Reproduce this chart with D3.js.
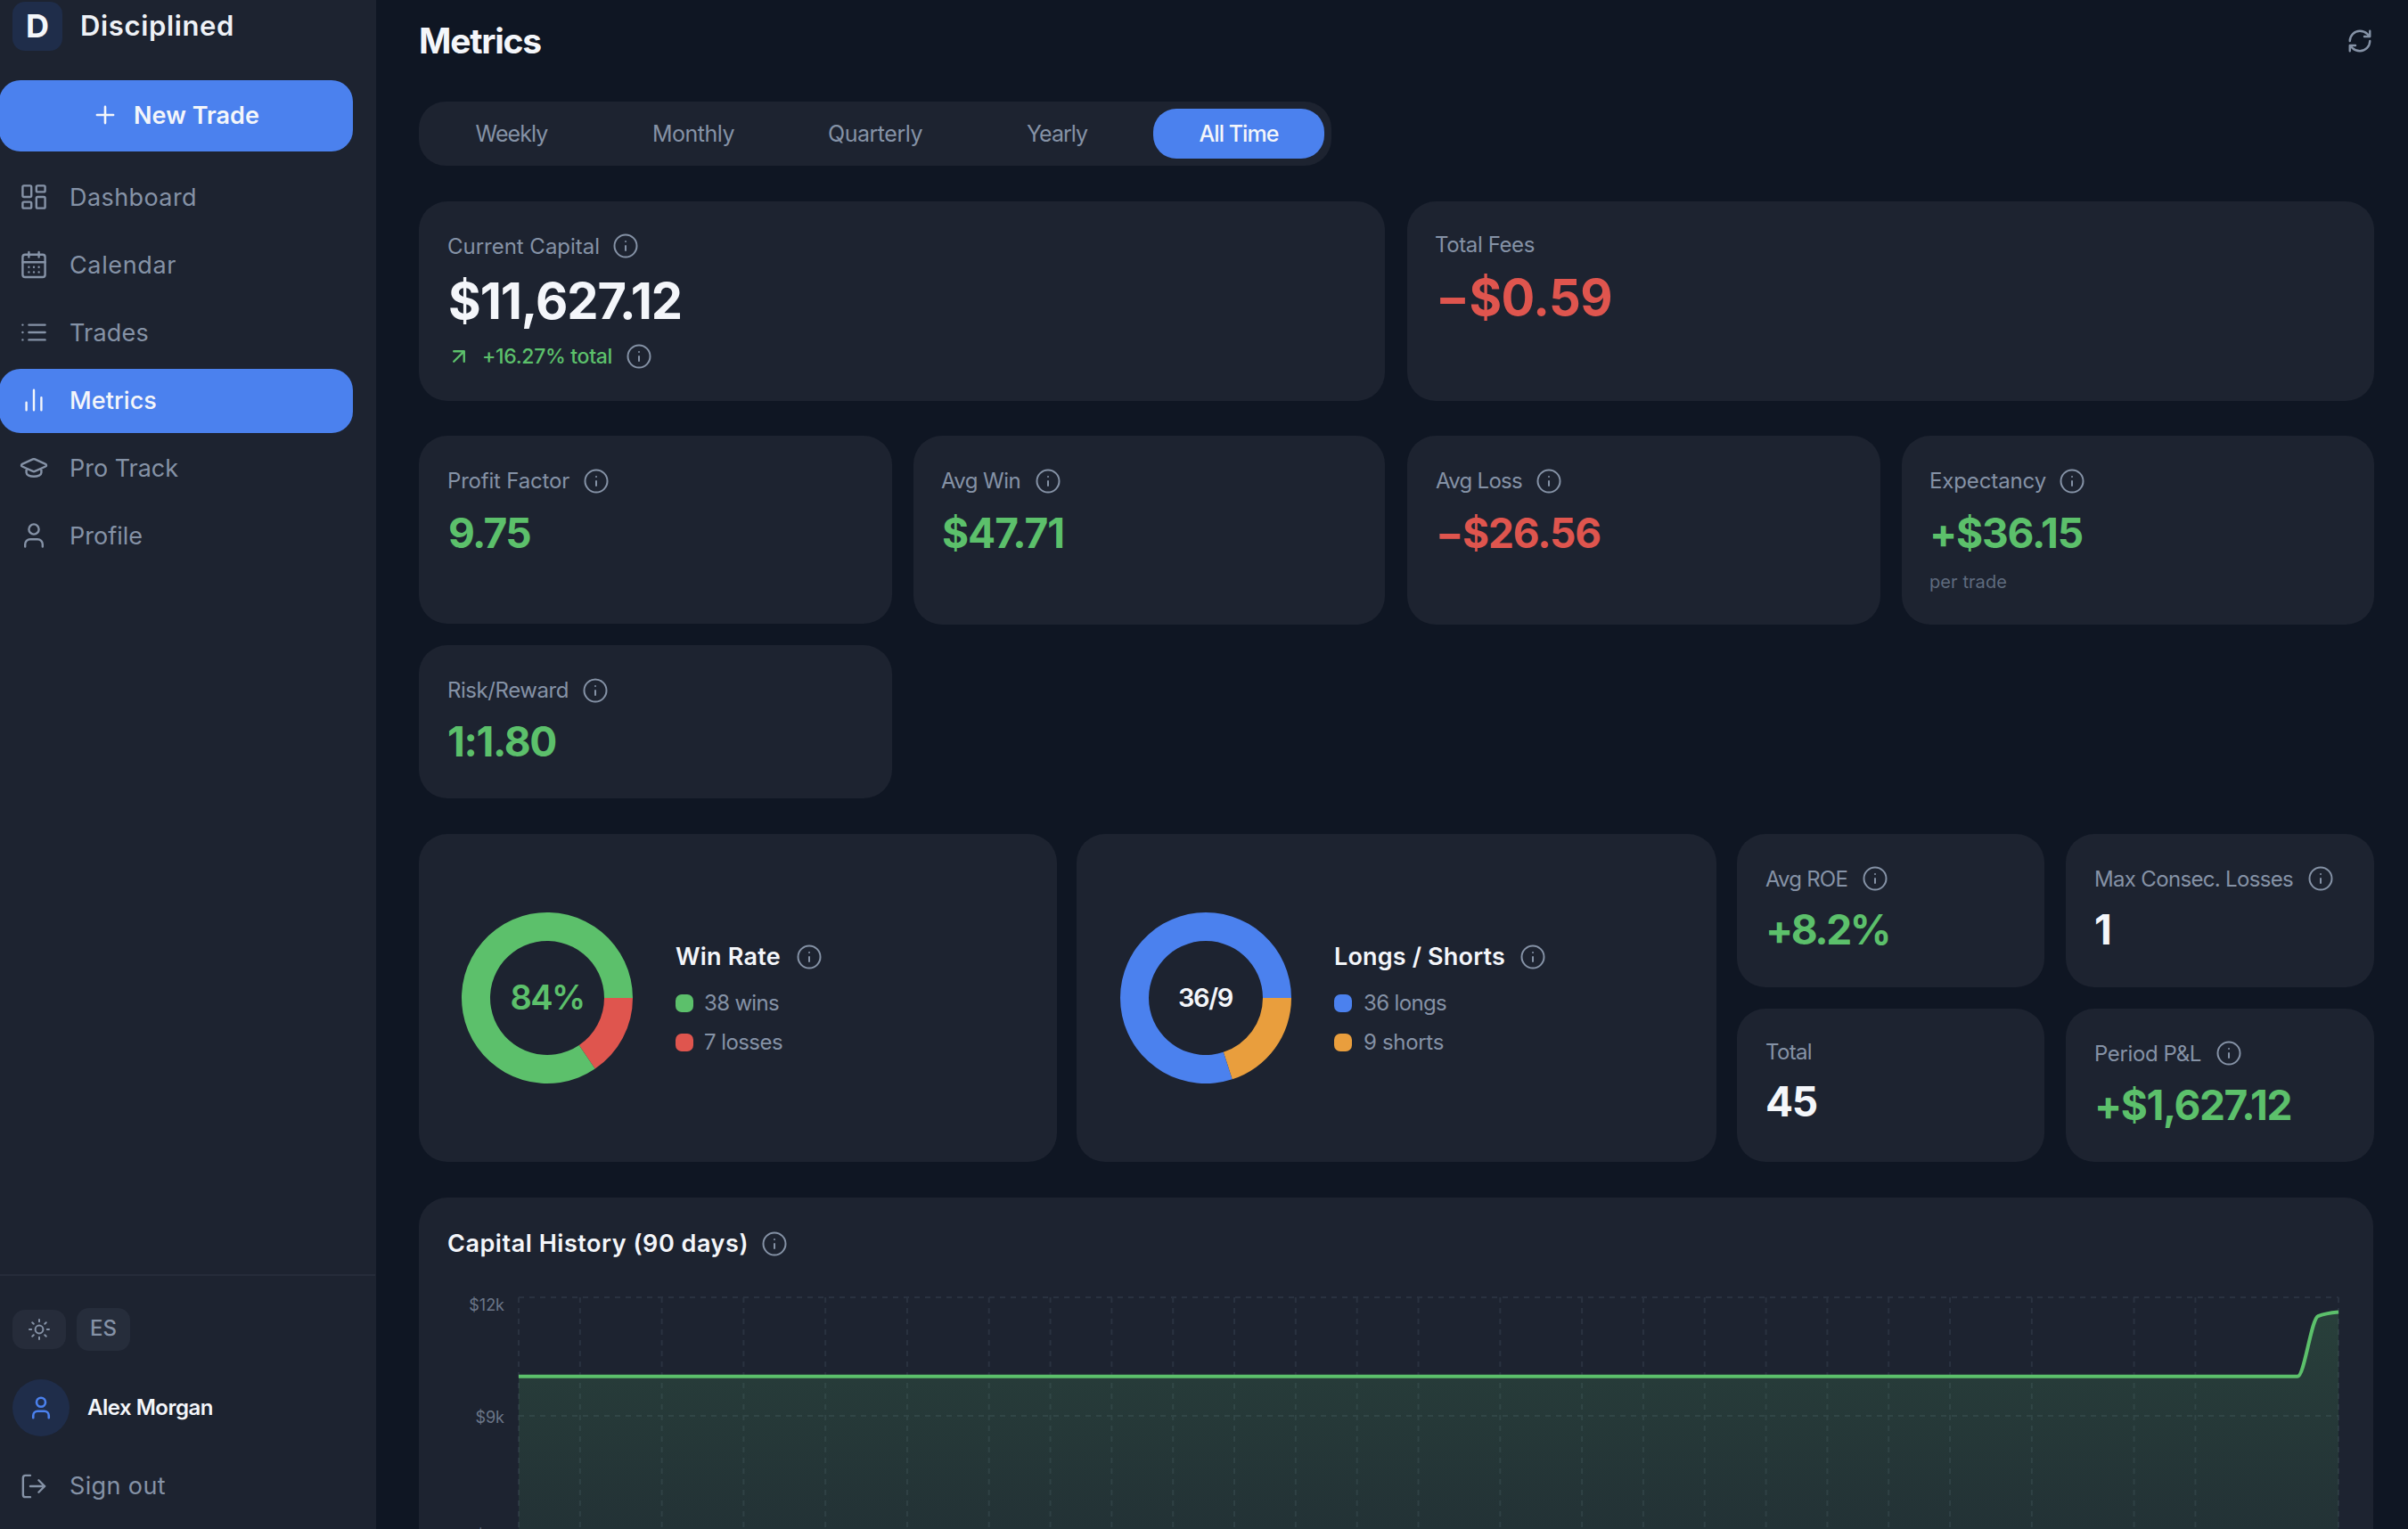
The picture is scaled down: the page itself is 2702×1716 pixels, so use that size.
<!DOCTYPE html>
<html><head><meta charset="utf-8">
<style>html,body{margin:0;padding:0;background:#0f1623;overflow:hidden;width:2702px;height:1716px}svg{display:block;font-family:Inter,"Noto Sans",sans-serif}</style>
<script src="https://cdn.jsdelivr.net/npm/d3@7/dist/d3.min.js"></script>
</head><body><svg id="c" width="2702" height="1716" viewBox="0 0 2702 1716"></svg>
<script>
// ---- data ----
const navLabels = ["Dashboard","Calendar","Trades","Metrics","Pro Track","Profile"];
const tabLabels = ["Weekly","Monthly","Quarterly","Yearly","All Time"];
const winLossValues = [7,38];
const winLossColors = ["#df554e","#5cc06b"];
const longShortValues = [9,36];
const longShortColors = ["#e99e3d","#4b81ee"];
const capitalHistory = [
 10000,10000,10000,10000,10000,10000,10000,10000,10000,10000,
 10000,10000,10000,10000,10000,10000,10000,10000,10000,10000,
 10000,10000,10000,10000,10000,10000,10000,10000,10000,10000,
 10000,10000,10000,10000,10000,10000,10000,10000,10000,10000,
 10000,10000,10000,10000,10000,10000,10000,10000,10000,10000,
 10000,10000,10000,10000,10000,10000,10000,10000,10000,10000,
 10000,10000,10000,10000,10000,10000,10000,10000,10000,10000,
 10000,10000,10000,10000,10000,10000,10000,10000,10000,10000,
 10000,10000,10000,10000,10000,10000,10000,10000,11526,11627.12];
const capitalDayIndex = capitalHistory.map((_,i)=>i);
const xGridDays = [0,3,7,11,15,19,23,26,29,32,35,38,41,44,48,52,55,58,61,64,67,70,74,79,82,89];
const yTickValues = [12000,9000,6000];

// ---- palette ----
const C={bg:"#0f1623",card:"#1d2330",blue:"#4b81ee",green:"#5cc06b",red:"#df554e",white:"#f4f6fa",gray:"#8592a6",dim:"#6b7688",grid:"#2a3240"};
const svg=d3.select("#c");
function rect(x0,y0,x1,y1,r,fill){return svg.append("rect").attr("x",x0).attr("y",y0).attr("width",x1-x0).attr("height",y1-y0).attr("rx",r).attr("fill",fill);}
function txt(s,x,y,size,weight,fill,width,anchor){
  const t=svg.append("text").attr("x",x).attr("y",y).attr("font-size",size).attr("font-weight",weight).attr("fill",fill).text(s);
  if(anchor)t.attr("text-anchor",anchor);
  if(width){const l=t.node().getComputedTextLength();t.attr("letter-spacing",(width-l)/s.length);}
  return t;
}
const ICON={
 dash:'<rect x="3" y="3" width="7" height="9" rx="1"/><rect x="14" y="3" width="7" height="5" rx="1"/><rect x="14" y="12" width="7" height="9" rx="1"/><rect x="3" y="16" width="7" height="5" rx="1"/>',
 cal:'<path d="M8 2v4M16 2v4M3 10h18M8 14h.01M12 14h.01M16 14h.01M8 18h.01M12 18h.01M16 18h.01"/><rect x="3" y="4" width="18" height="18" rx="2"/>',
 list:'<path d="M3 6h.01M3 12h.01M3 18h.01M8 6h13M8 12h13M8 18h13"/>',
 bars:'<path d="M18 20V10M12 20V4M6 20v-6"/>',
 cap:'<path d="M21.42 10.922a1 1 0 0 0-.019-1.838L12.83 5.18a2 2 0 0 0-1.66 0L2.6 9.08a1 1 0 0 0 0 1.832l8.57 3.908a2 2 0 0 0 1.66 0zM6 12.5V16a6 3 0 0 0 12 0v-3.5"/>',
 user:'<path d="M19 21v-2a4 4 0 0 0-4-4H9a4 4 0 0 0-4 4v2"/><circle cx="12" cy="7" r="4"/>',
 plus:'<path d="M5 12h14M12 5v14"/>',
 sun:'<circle cx="12" cy="12" r="4"/><path d="M12 2v2M12 20v2M4.93 4.93l1.41 1.41M17.66 17.66l1.41 1.41M2 12h2M20 12h2M6.34 17.66l-1.41 1.41M19.07 4.93l-1.41 1.41"/>',
 out:'<path d="M9 21H5a2 2 0 0 1-2-2V5a2 2 0 0 1 2-2h4M16 17l5-5-5-5M21 12H9"/>',
 up:'<path d="M7 7h10v10M7 17 17 7"/>',
 refresh:'<path d="M3 12a9 9 0 0 1 9-9 9.75 9.75 0 0 1 6.74 2.74L21 8M21 3v5h-5M21 12a9 9 0 0 1-9 9 9.75 9.75 0 0 1-6.74-2.74L3 16M8 16H3v5"/>',
 info:'<circle cx="12" cy="12" r="10"/><path d="M12 16v-4M12 8h.01"/>'
};
function icon(name,cx,cy,s,color,sw){
  svg.append("g").attr("transform",`translate(${cx-12*s},${cy-12*s}) scale(${s})`)
   .attr("fill","none").attr("stroke",color).attr("stroke-width",sw/s).attr("stroke-linecap","round").attr("stroke-linejoin","round").html(ICON[name]);
}
const info=(x,y)=>icon("info",x,y,1.25,C.gray,2);

// ---- sidebar ----
rect(0,0,422,1716,0,C.card);
rect(14,2,70,57,14,"#1f2d4a");
txt("D",42,42,36,700,C.white,null,"middle");
txt("Disciplined",90,40,31,600,"#eef1f6",173);
rect(-1,90,396,170,24,C.blue);
icon("plus",118,129,1.3,C.white,2.6);
txt("New Trade",150,139,27,600,C.white,141);
const navIcons=["dash","cal","list","bars","cap","user"];
const navWidths=[143,120,89,98,122,82];
rect(-1,414,396,486,24,C.blue);
navLabels.forEach((n,i)=>{
  const y=221+i*76, active=n==="Metrics";
  icon(navIcons[i],38,y,1.4,active?C.white:C.gray,2.4);
  txt(n,78,y+10,27,active?500:400,active?C.white:C.gray,navWidths[i]);
});
rect(0,1430,421,1432,0,"#262c3a");
rect(14,1470,74,1514,14,"#262c3a");
icon("sun",44,1492,1.1,C.gray,2);
rect(86,1468,146,1516,14,"#262d3b");
txt("ES",116,1499,24,500,C.gray,null,"middle");
svg.append("circle").attr("cx",46).attr("cy",1580).attr("r",32).attr("fill","#1f2d4a");
icon("user",46,1580,1.25,C.blue,2.6);
txt("Alex Morgan",98,1588,24,600,C.white,141);
icon("out",38,1668,1.35,C.gray,2.4);
txt("Sign out",78,1677,27,400,C.gray,108);

// ---- header and tabs ----
txt("Metrics",470,60,39,700,C.white,137);
icon("refresh",2648,46,1.25,C.gray,2.4);
rect(470,114,1494,186,30,C.card);
rect(1294,122,1486,178,26,C.blue);
const tabCentres=[574,778,982,1186,1390], tabWidths=[81,92,106,68,89];
tabLabels.forEach((t,i)=>{
  txt(t,tabCentres[i]-tabWidths[i]/2,159,25,i===4?500:400,i===4?C.white:C.gray,tabWidths[i]);
});

// ---- cards ----
const R=32;
[[470,226,1554,450],[1579,226,2664,450],
 [470,489,1001,700],[1025,489,1554,701],[1579,489,2110,701],[2134,489,2664,701],
 [470,724,1001,896],
 [470,936,1186,1304],[1208,936,1926,1304],
 [1949,936,2294,1108],[2318,936,2664,1108],[1949,1132,2294,1304],[2318,1132,2664,1304],
 [470,1344,2663,1790]].forEach(r=>rect(r[0],r[1],r[2],r[3],R,C.card));

txt("Current Capital",502,285,24,400,C.gray,171); info(702,276);
txt("$11,627.12",503,358,56,700,C.white,262);
icon("up",515,400,1.15,C.green,2.4);
txt("+16.27% total",541,408,23,500,C.green,146); info(717,400);
txt("Total Fees",1610,283,24,400,C.gray,112);
txt("−$0.59",1611,354,56,700,C.red,198);

const row2=[
 ["Profit Factor",502,137,669,"9.75",503,92,C.green],
 ["Avg Win",1056,89,1176,"$47.71",1057,137,C.green],
 ["Avg Loss",1611,97,1738,"−$26.56",1611,185,C.red],
 ["Expectancy",2165,131,2325,"+$36.15",2165,172,C.green]];
row2.forEach(r=>{
  txt(r[0],r[1],548,24,400,C.gray,r[2]); info(r[3],540);
  txt(r[4],r[5],615,46,700,r[7],r[6]);
});
txt("per trade",2165,660,20,400,"#5f6b7e",87);
txt("Risk/Reward",502,783,24,400,C.gray,136); info(668,775);
txt("1:1.80",502,849,46,700,C.green,122);

// ---- donuts ----
const pie=d3.pie().sort(null).startAngle(Math.PI/2).endAngle(Math.PI/2+2*Math.PI);
const arc=d3.arc().innerRadius(64).outerRadius(96);
function donut(cx,values,colors){
  svg.append("g").attr("transform",`translate(${cx},1120)`).selectAll("path").data(pie(values)).join("path").attr("d",arc).attr("fill",(d,i)=>colors[i]);
}
donut(614,winLossValues,winLossColors);
txt("84%",572.5,1133,38,600,C.green,83);
txt("Win Rate",758,1083,27,600,C.white,118); info(908,1074);
rect(758,1116,778,1136,7,winLossColors[1]); txt(`${winLossValues[1]} wins`,790,1134,24,400,C.gray,84);
rect(758,1160,778,1180,7,winLossColors[0]); txt(`${winLossValues[0]} losses`,790,1178,24,400,C.gray,88);

donut(1353,longShortValues,longShortColors);
txt("36/9",1322,1130,29,600,C.white,61);
txt("Longs / Shorts",1497,1083,27,600,C.white,192); info(1720,1074);
rect(1497,1116,1517,1136,7,longShortColors[1]); txt(`${longShortValues[1]} longs`,1530,1134,24,400,C.gray,93);
rect(1497,1160,1517,1180,7,longShortColors[0]); txt(`${longShortValues[0]} shorts`,1530,1178,24,400,C.gray,90);

// ---- right small cards ----
txt("Avg ROE",1981,995,24,400,C.gray,92); info(2104,986);
txt("+8.2%",1981,1060,46,700,C.green,139);
txt("Max Consec. Losses",2350,995,24,400,C.gray,223); info(2604,986);
txt("1",2350,1060,46,700,C.white);
txt("Total",1981,1189,24,400,C.gray,52);
txt("45",1981,1253,46,700,C.white,58);
txt("Period P&L",2350,1191,24,400,C.gray,120); info(2501,1182);
txt("+$1,627.12",2350,1257,46,700,C.green,221);

// ---- capital history chart ----
txt("Capital History (90 days)",502,1405,27,600,C.white,338); info(869,1396);
const x=d3.scalePoint().domain(capitalDayIndex).range([582,2624]);
const y=d3.scaleLinear().domain([0,12000]).range([1988,1456]);
const grad=svg.append("defs").append("linearGradient").attr("id","g").attr("x1",0).attr("x2",0).attr("y1",0).attr("y2",1);
grad.append("stop").attr("offset",0).attr("stop-color",C.green).attr("stop-opacity",.18);
grad.append("stop").attr("offset",1).attr("stop-color",C.green).attr("stop-opacity",0);
const gridG=svg.append("g").attr("stroke",C.grid).attr("stroke-width",2).attr("stroke-dasharray","6 6").attr("fill","none");
gridG.selectAll("line.h").data(yTickValues).join("line").attr("class","h").attr("x1",582).attr("x2",2624).attr("y1",d=>y(d)).attr("y2",d=>y(d));
gridG.selectAll("line.v").data(xGridDays).join("line").attr("class","v").attr("y1",1456).attr("y2",1988).attr("x1",d=>x(d)).attr("x2",d=>x(d));
const area=d3.area().x((d,i)=>x(i)).y0(y(0)).y1(d=>y(d)).curve(d3.curveMonotoneX);
const line=d3.line().x((d,i)=>x(i)).y(d=>y(d)).curve(d3.curveMonotoneX);
svg.append("path").datum(capitalHistory).attr("d",area).attr("fill","url(#g)");
svg.append("path").datum(capitalHistory).attr("d",line).attr("fill","none").attr("stroke",C.green).attr("stroke-width",4);
const yAxis=svg.append("g").attr("transform","translate(566,0)")
  .call(d3.axisLeft(y).tickValues(yTickValues).tickSize(0).tickPadding(0).tickFormat(d=>`$${d/1000}k`));
yAxis.select(".domain").remove();
yAxis.selectAll("text").attr("font-size",18).attr("font-family","Inter").attr("fill",C.dim).attr("dy",(d)=>d===12000?"14":"7");
</script></body></html>
